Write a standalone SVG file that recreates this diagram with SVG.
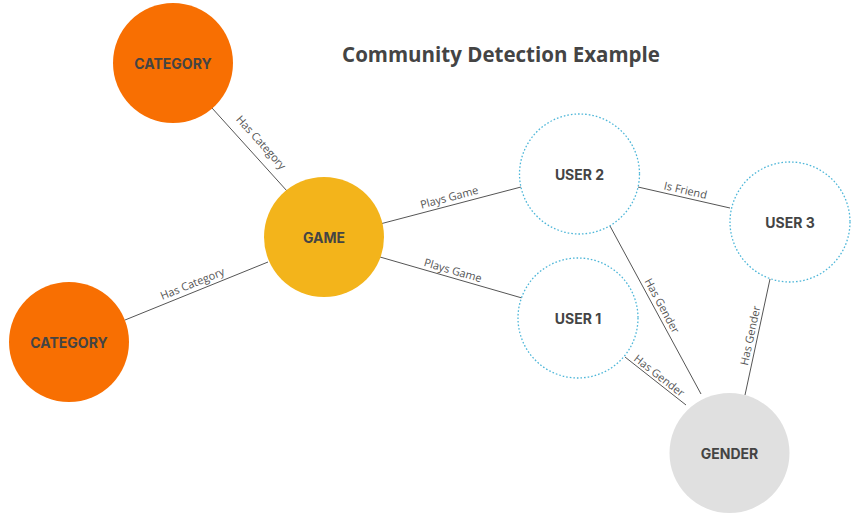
<svg xmlns="http://www.w3.org/2000/svg" width="857" height="514" viewBox="0 0 857 514">
<style>
.edge{stroke:#555;stroke-width:1;fill:none}
.el{font-family:"Open Sans",Inter,"Liberation Sans",sans-serif;font-size:11px;font-weight:400;fill:#555;text-anchor:middle}
.nl{font-family:Inter,"Open Sans","Liberation Sans",sans-serif;font-size:14px;font-weight:700;fill:#444;text-anchor:middle;dominant-baseline:central}
.cat{fill:#F86F02}
.game{fill:#F3B41B}
.user{fill:#fff;stroke:#4DB6D8;stroke-width:1.3;stroke-dasharray:1.6 2}
.gender{fill:#E0E0E0}
</style>
<rect width="857" height="514" fill="#fff"/>
<text x="501" y="62" font-family="'Open Sans',Inter,'Liberation Sans',sans-serif" font-size="20.5" font-weight="700" fill="#444" text-anchor="middle">Community Detection Example</text>
<g id="connectors">
<line class="edge" x1="212" y1="108" x2="287" y2="191"/>
<line class="edge" x1="125" y1="320" x2="268" y2="262"/>
<line class="edge" x1="380" y1="224" x2="521" y2="187"/>
<line class="edge" x1="380" y1="257" x2="522" y2="298"/>
<line class="edge" x1="638" y1="187" x2="730" y2="208"/>
<line class="edge" x1="610" y1="226" x2="701" y2="394"/>
<line class="edge" x1="625" y1="357" x2="686" y2="405"/>
<line class="edge" x1="770" y1="279" x2="745" y2="395"/>
<text class="el" transform="translate(256,147) rotate(47.9)" y="-3">Has Category</text>
<text class="el" transform="translate(195,290) rotate(-22)" y="-3">Has Category</text>
<text class="el" transform="translate(451,204) rotate(-14.7)" y="-3">Plays Game</text>
<text class="el" transform="translate(451,277) rotate(16.1)" y="-3">Plays Game</text>
<text class="el" transform="translate(684,197) rotate(12.9)" y="-3">Is Friend</text>
<text class="el" transform="translate(656,309) rotate(61.6)" y="-3">Has Gender</text>
<text class="el" transform="translate(655,381) rotate(38)" y="-3">Has Gender</text>
<text class="el" transform="translate(757,337) rotate(-77.8)" y="-3">Has Gender</text>
</g>
<g id="category1"><circle class="cat" cx="173" cy="63" r="60"/><text class="nl" x="173" y="63">CATEGORY</text></g>
<g id="category2"><circle class="cat" cx="69" cy="342" r="60"/><text class="nl" x="69" y="342">CATEGORY</text></g>
<g id="game"><circle class="game" cx="324" cy="237" r="60"/><text class="nl" x="324" y="237">GAME</text></g>
<g id="user2"><circle class="user" cx="579.5" cy="174" r="60"/><text class="nl" x="579.5" y="174">USER 2</text></g>
<g id="user1"><circle class="user" cx="578" cy="318" r="60"/><text class="nl" x="578" y="318">USER 1</text></g>
<g id="user3"><circle class="user" cx="790" cy="222" r="60"/><text class="nl" x="790" y="222">USER 3</text></g>
<g id="gender"><circle class="gender" cx="729.5" cy="453" r="60"/><text class="nl" x="729.5" y="453">GENDER</text></g>
</svg>
